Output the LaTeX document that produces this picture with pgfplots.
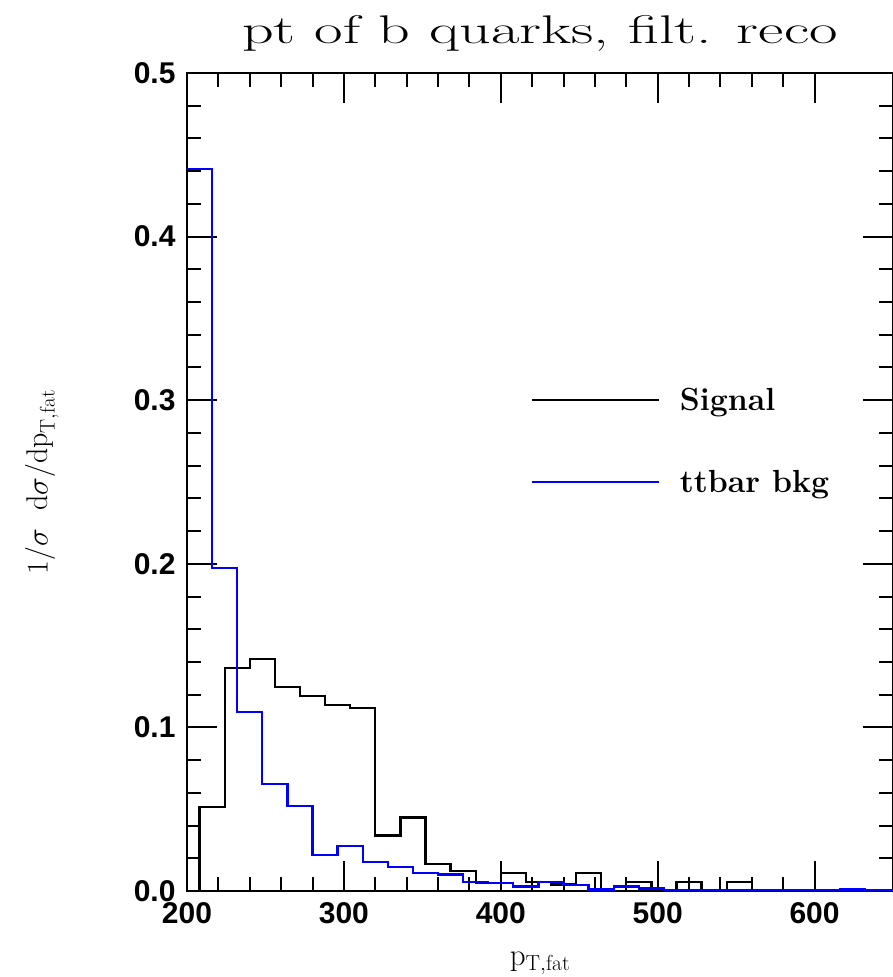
\RequirePackage{fix-cm}
\documentclass[border=0pt]{standalone}
\usepackage{fontspec}
\setsansfont{Liberation Sans}
\usepackage{graphicx}
\usepackage{pgfplots}
\pgfplotsset{compat=1.18}
\begin{document}
\begin{tikzpicture}
\begin{axis}[
  scale only axis, width=706pt, height=818pt,
  xmin=200, xmax=650, ymin=0, ymax=0.5,
  xtick={200,300,400,500,600}, minor x tick num=4,
  ytick={0,0.1,0.2,0.3,0.4,0.5}, minor y tick num=4,
  tick align=inside,
  major tick length=30pt, minor tick length=14pt,
  every tick/.style={black, line width=2pt},
  axis line style={line width=2.6pt},
  /pgf/number format/assume math mode=true,
  yticklabel style={/pgf/number format/fixed, /pgf/number format/fixed zerofill, /pgf/number format/precision=1, xshift=-8pt},
  xticklabel style={/pgf/number format/fixed, /pgf/number format/1000 sep={}, yshift=-8pt},
  tick label style={font=\sffamily\bfseries\fontsize{30}{32}\selectfont},
  title={\scalebox{1.55}[1]{pt of b quarks, filt. reco}},
  title style={font=\fontsize{40}{44}\selectfont, at={(axis description cs:0.5,1)}, anchor=center, yshift=34pt},
  xlabel={$\mathrm{p}_{\mathrm{T,fat}}$},
  xlabel style={font=\fontsize{31}{33}\selectfont, at={(axis description cs:0.5,0)}, anchor=center, yshift=-72pt},
  ylabel={$1/\sigma\ \ \mathrm{d}\sigma/\mathrm{dp}_{\mathrm{T,fat}}$},
  ylabel style={font=\fontsize{30}{32}\selectfont, at={(axis description cs:0,0.5)}, anchor=center, yshift=145pt},
  legend style={draw=none, fill=none, at={(axis cs:419,0.275)}, anchor=west, inner sep=0pt, outer sep=0pt,
    row sep=58pt, column sep=0pt, nodes={inner sep=0pt, font=\bfseries\fontsize{32}{34}\selectfont}},
  legend cell align=left,
  legend image code/.code={\draw[#1] (0pt,0pt) -- (127pt,0pt); \path (147pt,0pt);},
]
\addplot[const plot, black, line width=2.3pt] coordinates {
(200,0) (208,0.0512) (224,0.1361) (240,0.1416) (256,0.1249) (272,0.1190) (288,0.1135)
(304,0.1120) (320,0.0340) (336,0.0450) (352,0.0167) (368,0.0124) (384,0.0050)
(400,0.0108) (416,0.0057) (432,0.0040) (448,0.0110) (464,0.0) (480,0.0057) (496,0.0)
(512,0.0057) (528,0.0) (544,0.0057) (560,0.0) (650,0.0)
};
\addlegendentry{Signal}
\addplot[const plot, color={rgb,255:red,0;green,0;blue,255}, line width=2.3pt] coordinates {
(200,0.4411) (216,0.1976) (232,0.1092) (248,0.0654) (264,0.0521) (280,0.0220) (296,0.0273)
(312,0.0177) (328,0.0145) (344,0.0110) (360,0.0100) (376,0.0057) (392,0.0051) (408,0.0028)
(424,0.0057) (440,0.0037) (456,0.0010) (472,0.0027) (488,0.0015) (504,0.0008) (520,0.0005)
(536,0.0005) (552,0.0005) (568,0.0003) (584,0.0003) (600,0.0003) (616,0.0010) (632,0.0003) (650,0.0003)
};
\addlegendentry{ttbar bkg}
\coordinate (A) at (rel axis cs:0,0);
\coordinate (B) at (rel axis cs:1,1);
\end{axis}
\pgfresetboundingbox
\path[use as bounding box] ([xshift=-187pt,yshift=-86pt]A) rectangle ([xshift=-1pt,yshift=73pt]B);
\end{tikzpicture}
\end{document}
